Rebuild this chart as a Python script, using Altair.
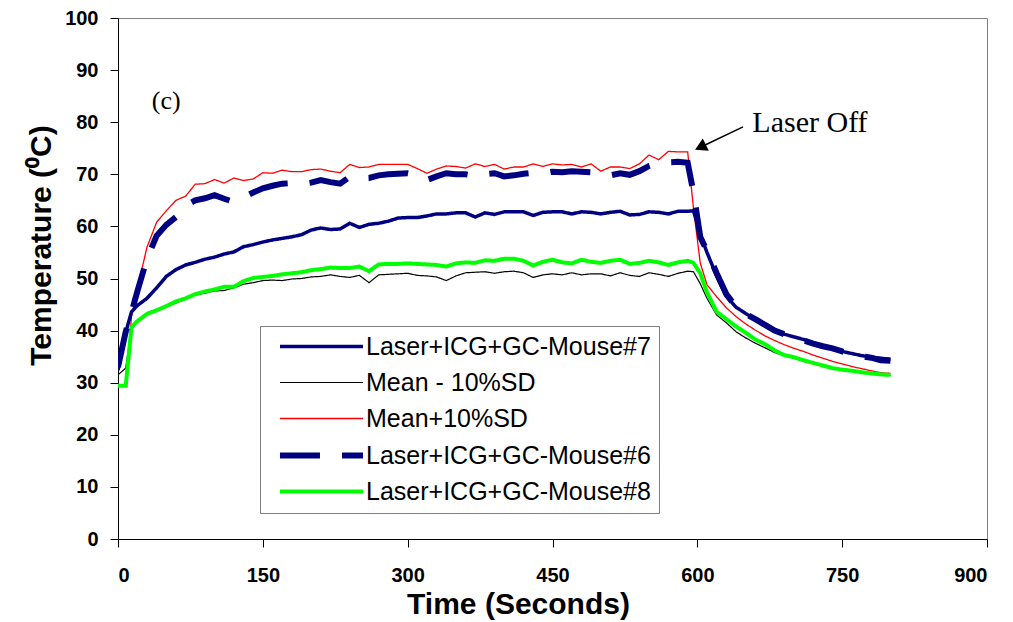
import altair as alt
import pandas as pd

# ---------------- data ----------------
time_s = [0, 8, 14, 20, 30, 40, 50, 60, 70, 80, 90, 100, 110, 120, 130, 140, 150, 160, 170, 180,
          190, 200, 210, 220, 230, 240, 250, 260, 270, 280, 290, 300, 310, 320, 330, 340, 350, 360, 370, 380,
          390, 400, 410, 420, 430, 440, 450, 460, 470, 480, 490, 500, 510, 520, 530, 540, 550, 560, 570, 580,
          590, 596, 603, 610, 620, 630, 640, 650, 660, 670, 680, 690, 700, 710, 720, 730, 740, 750, 760, 770,
          780, 790, 800]

mouse7 = [32.4, 39.7, 43.6, 44.8, 46.2, 48.2, 50.4, 51.7, 52.6, 53.1, 53.7, 54.1, 54.7, 55.1, 56.1, 56.5, 57.0, 57.4, 57.7, 58.0,
          58.4, 59.3, 59.7, 59.4, 59.5, 60.6, 59.8, 60.4, 60.6, 61.0, 61.6, 61.7, 61.7, 62.0, 62.4, 62.4, 62.6, 62.6, 61.8, 62.6,
          62.3, 62.8, 62.8, 62.8, 62.1, 62.7, 62.8, 62.8, 62.4, 62.8, 62.7, 62.4, 62.7, 62.9, 62.2, 62.3, 62.8, 62.7, 62.4, 62.9,
          62.9, 63.0, 58.5, 55.0, 50.5, 46.6, 44.5, 43.3, 42.2, 41.3, 40.2, 39.3, 38.8, 38.3, 37.6, 37.0, 36.5, 36.0, 35.6, 35.2,
          34.9, 34.7, 34.5]

mean_minus = [31.5, 32.8, 40.5, 41.6, 43.4, 44.1, 44.6, 45.3, 46.0, 46.8, 47.2, 47.6, 47.7, 48.2, 48.9, 49.2, 49.6, 49.7, 49.6, 49.9,
              50.0, 50.3, 50.4, 50.7, 50.4, 50.2, 50.6, 49.2, 50.7, 50.8, 50.9, 51.0, 50.6, 50.5, 50.3, 49.6, 50.5, 51.1, 51.2, 51.3,
              51.0, 51.3, 51.4, 51.1, 50.2, 50.7, 50.9, 50.7, 51.1, 50.7, 50.9, 50.9, 50.5, 51.1, 50.6, 50.4, 51.1, 50.8, 50.4, 51.0,
              51.4, 51.3, 49.0, 46.2, 43.0, 41.5, 39.8, 38.6, 37.6, 36.7, 35.8, 35.2, 34.7, 34.1, 33.7, 33.2, 32.8, 32.4, 32.2, 31.9,
              31.7, 31.5, 31.4]

mean_plus = [29.4, 29.4, 42.7, 48.0, 56.0, 60.8, 63.0, 65.0, 65.8, 68.1, 68.2, 69.0, 68.3, 69.3, 68.8, 69.1, 70.3, 70.2, 70.8, 70.5,
             70.5, 70.9, 71.0, 70.6, 70.3, 71.9, 71.3, 71.4, 71.9, 71.9, 71.9, 71.9, 71.1, 70.2, 71.0, 71.6, 71.5, 71.2, 72.0, 71.5,
             71.9, 71.0, 71.4, 71.4, 72.0, 71.5, 72.0, 71.8, 71.9, 71.4, 72.0, 70.6, 71.4, 71.4, 71.1, 72.0, 73.7, 72.8, 74.4, 74.3,
             74.3, 63.5, 53.0, 48.8, 46.5, 44.4, 42.7, 41.3, 40.1, 39.0, 38.1, 37.3, 36.6, 36.0, 35.3, 34.7, 34.1, 33.6, 33.1, 32.7,
             32.3, 31.9, 31.8]

mouse6 = [33.0, 39.8, 43.5, 47.5, 53.8, 58.2, 60.3, 61.8, 64.0, 65.0, 65.4, 66.0, 65.3, 64.7, 65.6, 66.5, 67.3, 67.8, 68.2, 68.3,
          68.1, 68.4, 68.9, 68.5, 68.2, 69.5, 69.2, 69.3, 69.8, 70.0, 70.1, 70.2, 69.8, 68.9, 69.6, 70.2, 70.0, 70.0, 69.7, 70.0,
          70.2, 69.6, 69.8, 70.1, 70.3, 70.2, 70.5, 70.4, 70.6, 70.5, 70.4, 70.0, 69.8, 70.2, 69.9, 70.6, 71.6, 72.2, 72.3, 72.4,
          72.2, 66.5, 58.0, 55.3, 51.0, 47.0, 44.6, 43.2, 42.2, 41.1, 40.0, 39.3, 38.7, 38.1, 37.5, 37.0, 36.6, 36.0, 35.6, 35.1,
          34.8, 34.3, 34.2]

mouse8 = [29.4, 29.4, 40.7, 41.8, 43.2, 43.9, 44.7, 45.6, 46.2, 47.0, 47.5, 47.9, 48.4, 48.4, 49.5, 50.1, 50.3, 50.5, 50.8, 51.0,
          51.2, 51.6, 51.8, 52.1, 52.0, 52.0, 52.3, 51.4, 52.7, 52.8, 52.8, 52.9, 52.8, 52.7, 52.6, 52.3, 52.9, 53.1, 53.0, 53.5,
          53.4, 53.8, 53.8, 53.4, 52.5, 53.2, 53.6, 53.1, 52.9, 53.6, 53.2, 53.0, 53.4, 53.6, 52.8, 53.0, 53.4, 53.1, 52.6, 53.1,
          53.4, 53.0, 51.0, 47.3, 43.6, 42.2, 40.8, 39.6, 38.3, 37.4, 36.2, 35.3, 34.9, 34.3, 33.8, 33.3, 32.8, 32.5, 32.3, 32.0,
          31.8, 31.6, 31.5]

series_names = ["Laser+ICG+GC-Mouse#7", "Mean - 10%SD", "Mean+10%SD",
                "Laser+ICG+GC-Mouse#6", "Laser+ICG+GC-Mouse#8"]
series_values = [mouse7, mean_minus, mean_plus, mouse6, mouse8]

x_ticks = [0, 150, 300, 450, 600, 750, 900]
y_ticks = [0, 10, 20, 30, 40, 50, 60, 70, 80, 90, 100]

# annotations
panel_label = ["(c)"]
panel_label_t = [35]
panel_label_temp = [84.1]
laser_text = ["Laser Off"]
laser_text_t = [657]
laser_text_temp = [78.2]
arrow_start_t = [647.3]
arrow_start_temp = [79.1]
arrow_head_t = [603.2]
arrow_head_temp = [75.2]

# ---------------- styles ----------------
series_colors = ["#000080", "#000000", "#FF0000", "#000080", "#00FF00"]
series_widths = [3.5, 1.2, 1.3, 6.0, 4.0]
series_dashes = [[1, 0], [1, 0], [1, 0], [40, 22], [1, 0]]
draw_order = ["Mean - 10%SD", "Mean+10%SD", "Laser+ICG+GC-Mouse#8",
              "Laser+ICG+GC-Mouse#7", "Laser+ICG+GC-Mouse#6"]

for v in series_values:
    assert len(v) == len(time_s)

rows = []
for name, vals in zip(series_names, series_values):
    for t, v in zip(time_s, vals):
        rows.append({"time": t, "temp": v, "series": name})
df = pd.DataFrame(rows)

x_enc = alt.X("time:Q", scale=alt.Scale(domain=[0, 900], nice=False, zero=False),
              axis=alt.Axis(values=x_ticks, title="Time (Seconds)", labelPadding=18,
                            titleX=400, titleY=74, titleBaseline="alphabetic",
                            titleAlign="center", titleFontSize=30))
y_enc = alt.Y("temp:Q", scale=alt.Scale(domain=[0, 100], nice=False),
              axis=alt.Axis(values=y_ticks, title="Temperature (\u2070C)", labelPadding=12,
                            titleX=-68, titleY=227, titleBaseline="alphabetic",
                            titleAlign="center", titleAngle=270, titleFontSize=30))

color_enc = alt.Color("series:N", scale=alt.Scale(domain=series_names, range=series_colors), title=None)
dash_enc = alt.StrokeDash("series:N", scale=alt.Scale(domain=series_names, range=series_dashes), title=None)
width_enc = alt.StrokeWidth("series:N", scale=alt.Scale(type="ordinal", domain=series_names, range=series_widths), title=None)

layers = []
for name in draw_order:
    layers.append(
        alt.Chart(df).transform_filter(alt.datum.series == name).mark_line(clip=True).encode(
            x=x_enc, y=y_enc, color=color_enc, strokeDash=dash_enc, strokeWidth=width_enc
        )
    )

panel_df = pd.DataFrame({"t": panel_label_t, "temp": panel_label_temp, "label": panel_label})
panel_layer = alt.Chart(panel_df).mark_text(
    font="Liberation Serif", fontSize=26, align="left", baseline="middle", color="black"
).encode(x="t:Q", y="temp:Q", text="label:N")

laser_df = pd.DataFrame({"t": laser_text_t, "temp": laser_text_temp, "label": laser_text})
laser_layer = alt.Chart(laser_df).mark_text(
    font="Liberation Serif", fontSize=30, align="left", baseline="alphabetic", color="black"
).encode(x="t:Q", y="temp:Q", text="label:N")

arrow_df = pd.DataFrame({"t": arrow_start_t, "temp": arrow_start_temp,
                         "t2": arrow_head_t, "temp2": arrow_head_temp})
arrow_line = alt.Chart(arrow_df).mark_rule(color="black", strokeWidth=1.5).encode(
    x="t:Q", y="temp:Q", x2="t2:Q", y2="temp2:Q")
arrow_head = alt.Chart(arrow_df).mark_point(
    shape="triangle-up", filled=True, color="black", size=190, angle=244, opacity=1
).encode(x="t2:Q", y="temp2:Q")

chart = alt.layer(*layers, panel_layer, laser_layer, arrow_line, arrow_head).properties(
    width=869, height=521,
    padding={"left": 110, "top": 10, "right": 10, "bottom": 82},
    autosize=alt.AutoSizeParams(type="none"),
).configure_view(
    stroke="#808080", strokeWidth=1
).configure_axis(
    grid=False, domainColor="black", domainWidth=1, tickColor="black", tickSize=8,
    labelFont="Liberation Sans", labelFontWeight="bold", labelFontSize=20, labelColor="black",
    titleFont="Liberation Sans", titleFontWeight="bold", titleColor="black",
).configure_legend(
    orient="none", legendX=142, legendY=308, direction="vertical",
    strokeColor="#808080", fillColor="white", padding=8,
    symbolType="M-4,0H4", symbolSize=431, symbolOffset=40,
    labelFont="Liberation Sans", labelFontSize=25, labelColor="black",
    labelLimit=500, rowPadding=10, labelOffset=31,
)

chart.save("out.html", embed_options={"renderer": "svg", "actions": False})
